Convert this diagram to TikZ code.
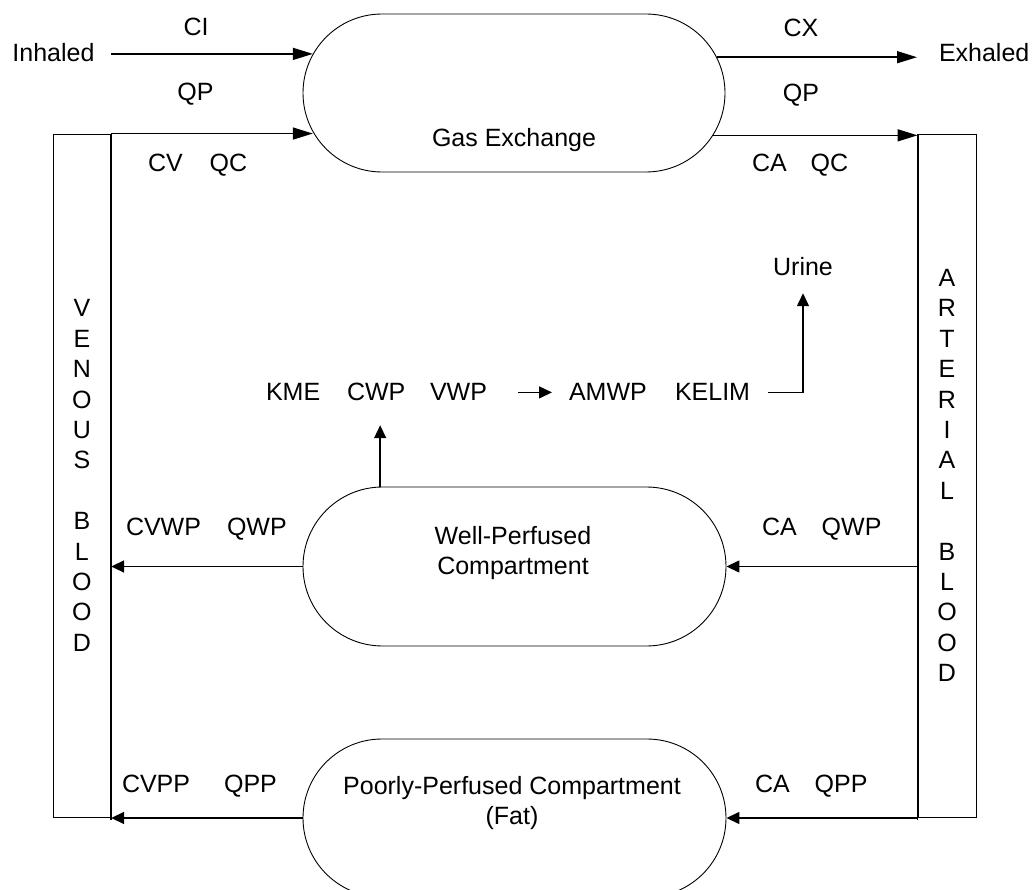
\documentclass[tikz,border=0pt]{standalone}
\usepackage{fontspec}
\setmainfont{Liberation Sans}
\usetikzlibrary{shapes.misc,arrows.meta,calc}
\newcommand\lbfont{\fontsize{25}{30.4}\selectfont}
\tikzset{
  lbl/.style={inner sep=0pt, outer sep=0pt, font=\lbfont},
  stad/.style={rounded rectangle, draw, line width=0.9pt, inner sep=0pt},
  bar/.style={draw, line width=0.9pt, inner sep=0pt, align=center, font=\lbfont},
  conn/.style={line width=1.5pt},
  bigarr/.style={conn, -{Triangle[length=20pt,width=12pt]}},
  smallarr/.style={conn, -{Triangle[length=13pt,width=12pt]}}
}
\begin{document}
\begin{tikzpicture}[x=1pt,y=-1pt]
\useasboundingbox (0,0) rectangle (1034,890);
\clip (0,0) rectangle (1034,890);

% compartments
\node[stad, minimum width=422pt, minimum height=158pt] (gas) at (514,93) {};
\node[stad, minimum width=423pt, minimum height=159pt] (wp) at (514.5,566.5) {};
\node[stad, minimum width=423pt, minimum height=158pt] (pp) at (514.5,818) {};

\node[lbl, anchor=base] (gastxt) at (514,147) {Gas Exchange};
\node[lbl, anchor=base] (wptxt1) at (513,544) {Well-Perfused};
\node[lbl, anchor=base] (wptxt2) at (513,574) {Compartment};
\node[lbl, anchor=base] (pptxt1) at (512,794) {Poorly-Perfused Compartment};
\node[lbl, anchor=base] (pptxt2) at (512,824) {(Fat)};

% blood bars
\node[bar, minimum width=57.7pt, minimum height=683pt] (ven) at (81.85,475.5)
  {V\\E\\N\\O\\U\\S\\~\\B\\L\\O\\O\\D};
\node[bar, minimum width=58pt, minimum height=683pt] (art) at (947,475.5)
  {A\\R\\T\\E\\R\\I\\A\\L\\~\\B\\L\\O\\O\\D};
\draw[conn] (ven.north east) -- ([yshift=-3pt]ven.south east);
\draw[conn] (art.north west) -- ([yshift=-3pt]art.south west);

% outside labels
\node[lbl, anchor=base west] (inh) at (12.5,62) {Inhaled};
\node[lbl, anchor=base west] (exh) at (939,62) {Exhaled};
\node[lbl, anchor=base] (ci) at (196,36) {CI};
\node[lbl, anchor=base] (qpl) at (195.5,101) {QP};
\node[lbl, anchor=base west] (cvqc) at (148,172) {CV\hspace{27pt}QC};
\node[lbl, anchor=base] (cx) at (801,37) {CX};
\node[lbl, anchor=base] (qpr) at (801,102) {QP};
\node[lbl, anchor=base west] (caqc) at (752,172) {CA\hspace{24pt}QC};
\node[lbl, anchor=base west] (cvwp) at (126,536) {CVWP\hspace{26pt}QWP};
\node[lbl, anchor=base west] (caqwp) at (762,536) {CA\hspace{25pt}QWP};
\node[lbl, anchor=base west] (cvpp) at (122,792) {CVPP\hspace{34pt}QPP};
\node[lbl, anchor=base west] (caqpp) at (755,792) {CA\hspace{25pt}QPP};

% middle
\node[lbl, anchor=base west] (kme) at (266,401) {KME};
\node[lbl, anchor=base west] (cwp) at (347,401) {CWP};
\node[lbl, anchor=base west] (vwp) at (430,401) {VWP};
\node[lbl, anchor=base west] (amwp) at (569,401) {AMWP};
\node[lbl, anchor=base west] (kelim) at (675,401) {KELIM};
\node[lbl, anchor=base] (urine) at (803,276) {Urine};

% connectors
\draw[bigarr] (ven.east |- gas.169.31) -- (gas.169.31);
\draw[bigarr] (ven.north east) -- (ven.north east -| gas.191.62);
\draw[bigarr] (gas.10.69) -- ($(exh.west |- gas.10.69)+(-22,0)$);
\draw[bigarr] (gas.348.38) -- (gas.348.38 -| art.north west);
\draw[smallarr] (wp.east -| art.west) -- (wp.east);
\draw[smallarr] (pp.east -| art.west) -- (pp.east);
\draw[smallarr] (wp.west) -- (wp.west -| ven.east);
\draw[smallarr] (pp.west) -- (pp.west -| ven.east);
\draw[smallarr] ([xshift=4pt]cwp.south |- wp.north) -- ([xshift=4pt,yshift=-24pt]cwp.south);
\draw[smallarr] ([xshift=31pt]vwp.east) -- ([xshift=-17pt]amwp.west);
\draw[smallarr] ([xshift=18pt]kelim.east) -| ([yshift=-17pt]urine.south);
\end{tikzpicture}
\end{document}
